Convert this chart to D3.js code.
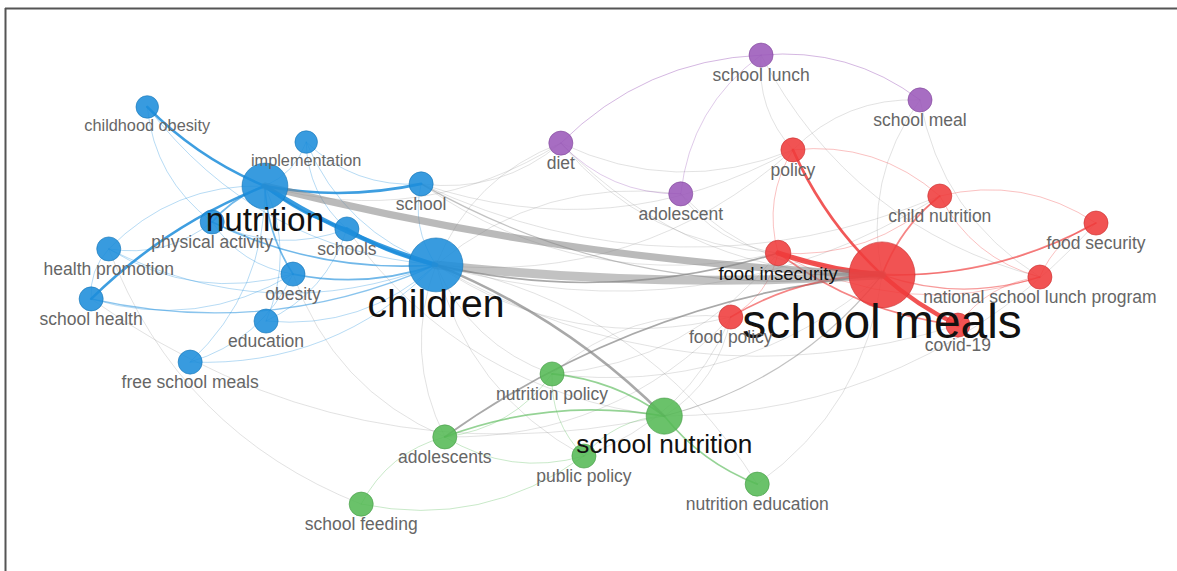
<!DOCTYPE html>
<html>
<head>
<meta charset="utf-8">
<script src="https://cdn.jsdelivr.net/npm/d3@7/dist/d3.min.js"></script>
<style>
  html, body { margin: 0; padding: 0; background: #fff; }
  svg { display: block; }
</style>
</head>
<body>
<svg id="map" width="1177" height="571"></svg>
<script>
// Keyword co-occurrence map: terms, clusters, occurrences and layout coordinates
const keywords = [
  "childhood obesity", "implementation", "nutrition", "school", "physical activity",
  "schools", "children", "health promotion", "obesity", "school health",
  "education", "free school meals",
  "school lunch", "school meal", "diet", "adolescent",
  "policy", "child nutrition", "food security", "food insecurity", "school meals",
  "national school lunch program", "food policy", "covid-19",
  "nutrition policy", "school nutrition", "adolescents", "public policy",
  "school feeding", "nutrition education"
];
const clusters = [
  1, 1, 1, 1, 1, 1, 1, 1, 1, 1, 1, 1,
  4, 4, 4, 4,
  2, 2, 2, 2, 2, 2, 2, 2,
  3, 3, 3, 3, 3, 3
];
const occurrences = [
  7, 7, 29, 8, 8, 8, 40, 8, 8, 8, 8, 8,
  8, 8, 8, 8,
  8, 8, 8, 9, 60, 8, 8, 8,
  8, 18, 8, 8, 8, 8
];
const layoutX = [
  -0.805, -0.516, -0.591, -0.307, -0.687, -0.442, -0.280, -0.875, -0.540, -0.907,
  -0.589, -0.727,
  0.311, 0.600, -0.053, 0.165,
  0.369, 0.636, 0.920, 0.342, 0.531, 0.818, 0.256, 0.669,
  -0.069, 0.135, -0.264, -0.011, -0.416, 0.304
];
const layoutY = [
  -0.678, -0.548, -0.385, -0.393, -0.252, -0.226, -0.093, -0.152, -0.059, 0.033,
  0.115, 0.267,
  -0.870, -0.704, -0.544, -0.356,
  -0.519, -0.348, -0.248, -0.137, -0.056, -0.048, 0.100, 0.130,
  0.311, 0.467, 0.544, 0.615, 0.793, 0.719
];

// Co-occurrence links: [term, term, link strength]
const links = [
  // cluster 1
  ["childhood obesity", "nutrition", 3],
  ["nutrition", "school health", 3],
  ["nutrition", "school", 3],
  ["nutrition", "children", 5],
  ["nutrition", "schools", 3],
  ["schools", "children", 4],
  ["nutrition", "obesity", 2],
  ["nutrition", "physical activity", 2],
  ["nutrition", "implementation", 1],
  ["nutrition", "health promotion", 1],
  ["obesity", "children", 2],
  ["physical activity", "children", 2],
  ["school health", "children", 1.5],
  ["health promotion", "children", 1],
  ["school", "children", 1],
  ["education", "children", 1],
  ["free school meals", "children", 1],
  ["implementation", "children", 1],
  ["childhood obesity", "children", 1],
  ["free school meals", "nutrition", 1],
  ["education", "nutrition", 1],
  ["health promotion", "obesity", 1],
  ["school health", "obesity", 1],
  ["physical activity", "obesity", 1],
  ["free school meals", "obesity", 1],
  ["physical activity", "schools", 1],
  ["health promotion", "school health", 1],
  ["implementation", "school", 1],
  ["implementation", "schools", 1],
  ["education", "schools", 1],
  ["childhood obesity", "physical activity", 1],
  ["health promotion", "physical activity", 1],
  // between clusters
  ["nutrition", "school meals", 8],
  ["children", "school meals", 10],
  ["school nutrition", "children", 3],
  ["school meals", "adolescents", 2],
  ["school nutrition", "food security", 1],
  ["children", "food insecurity", 2],
  ["school", "policy", 1],
  ["school", "school meals", 1.5],
  ["school", "food insecurity", 1],
  ["school", "child nutrition", 1],
  ["nutrition", "diet", 1],
  ["school", "diet", 1],
  ["diet", "policy", 1],
  ["diet", "school meals", 1],
  ["diet", "food insecurity", 1],
  ["diet", "children", 1],
  ["children", "policy", 1],
  ["children", "child nutrition", 1],
  ["children", "food policy", 1],
  ["children", "covid-19", 1],
  ["children", "nutrition policy", 1],
  ["children", "adolescents", 1],
  ["obesity", "adolescents", 1],
  ["children", "public policy", 1],
  ["schools", "school nutrition", 1],
  ["school health", "school nutrition", 1],
  ["health promotion", "school feeding", 1],
  ["adolescent", "school meals", 1],
  ["adolescent", "children", 1],
  ["adolescent", "food insecurity", 1],
  ["school lunch", "policy", 1],
  ["school lunch", "national school lunch program", 1],
  ["school meal", "school meals", 1],
  ["school meal", "policy", 1],
  ["school meal", "national school lunch program", 1],
  ["school nutrition", "school meals", 1.5],
  ["nutrition policy", "school meals", 1],
  ["nutrition policy", "food insecurity", 1],
  ["public policy", "food policy", 1],
  ["nutrition education", "school meals", 1],
  ["nutrition education", "children", 1],
  ["food policy", "nutrition policy", 1],
  ["school nutrition", "food policy", 1],
  ["adolescents", "food policy", 1],
  // cluster 4
  ["school lunch", "diet", 1.2],
  ["school meal", "school lunch", 1.2],
  ["school lunch", "adolescent", 1],
  ["diet", "adolescent", 1],
  // cluster 2
  ["policy", "school meals", 3],
  ["child nutrition", "school meals", 2],
  ["food insecurity", "school meals", 6],
  ["school meals", "covid-19", 5],
  ["school meals", "food policy", 2],
  ["school meals", "food security", 2],
  ["school meals", "national school lunch program", 1.5],
  ["child nutrition", "policy", 1],
  ["food security", "child nutrition", 1],
  ["child nutrition", "national school lunch program", 1],
  ["food security", "national school lunch program", 1],
  ["food insecurity", "child nutrition", 1],
  ["policy", "food insecurity", 1],
  ["food insecurity", "national school lunch program", 1],
  ["food insecurity", "food security", 1],
  ["national school lunch program", "covid-19", 1],
  ["food insecurity", "covid-19", 2],
  ["food policy", "food insecurity", 1],
  // cluster 3
  ["school nutrition", "nutrition policy", 2],
  ["school nutrition", "adolescents", 2],
  ["school nutrition", "nutrition education", 2],
  ["school nutrition", "public policy", 1],
  ["adolescents", "public policy", 1],
  ["school feeding", "public policy", 1],
  ["adolescents", "school feeding", 1],
  ["adolescents", "nutrition policy", 1],
  ["nutrition policy", "public policy", 1]
];

const clusterColors = { 1: "#1c8ddb", 2: "#ef3b3b", 3: "#55b955", 4: "#9b59b9" };
const linkGray = "#858585";

const W = 1177, H = 571;
const svg = d3.select("#map");

const x = d3.scaleLinear().domain([-1, 1]).range([40, 1140]);
const y = d3.scaleLinear().domain([-1, 1]).range([20, 560]);
const radius = d3.scaleSqrt().domain([0, d3.max(occurrences)]).range([0, 33]);
const linkWidth = d3.scaleLinear().domain([1, 10]).range([0.8, 9]);
// colored links get stronger with weight; gray links peak at medium weight
const colorOpacity = d3.scaleLinear().domain([1, 3, 10]).range([0.4, 0.85, 0.95]).clamp(true);
const grayOpacity = d3.scaleLinear().domain([1, 2, 4, 10]).range([0.3, 0.7, 0.7, 0.5]).clamp(true);

const nodes = keywords.map((k, i) => ({
  label: k,
  cluster: clusters[i],
  occ: occurrences[i],
  px: x(layoutX[i]),
  py: y(layoutY[i]),
  r: radius(occurrences[i])
}));
const byLabel = new Map(nodes.map(n => [n.label, n]));

// frame
svg.append("line").attr("x1", 5).attr("x2", W).attr("y1", 8.5).attr("y2", 8.5)
  .attr("stroke", "#555").attr("stroke-width", 2);
svg.append("line").attr("x1", 5.5).attr("x2", 5.5).attr("y1", 8).attr("y2", H)
  .attr("stroke", "#555").attr("stroke-width", 2);

// curved links, weakest first
function arc(a, b, w) {
  const dx = b.px - a.px, dy = b.py - a.py;
  const len = Math.hypot(dx, dy);
  const off = len * 0.11 / Math.pow(w, 0.7);
  const mx = (a.px + b.px) / 2, my = (a.py + b.py) / 2;
  const cx = mx + (-dy / len) * off * 2, cy = my + (dx / len) * off * 2;
  const p = d3.path();
  p.moveTo(a.px, a.py);
  p.quadraticCurveTo(cx, cy, b.px, b.py);
  return p.toString();
}

const linkData = links.map(([s, t, w]) => ({ s: byLabel.get(s), t: byLabel.get(t), w }))
  .map(d => ({ ...d, same: d.s.cluster === d.t.cluster }))
  .sort((a, b) => a.w - b.w);

svg.append("g").attr("fill", "none").attr("stroke-linecap", "round")
  .selectAll("path").data(linkData).join("path")
  .attr("d", d => arc(d.s, d.t, d.w))
  .attr("stroke", d => d.same ? clusterColors[d.s.cluster] : linkGray)
  .attr("stroke-width", d => linkWidth(d.w))
  .attr("stroke-opacity", d => d.same ? colorOpacity(d.w) : grayOpacity(d.w));

// nodes
svg.append("g").selectAll("circle").data(nodes).join("circle")
  .attr("cx", d => d.px).attr("cy", d => d.py).attr("r", d => d.r)
  .attr("fill", d => clusterColors[d.cluster])
  .attr("fill-opacity", 0.88)
  .attr("stroke", d => d3.color(clusterColors[d.cluster]).darker(0.5))
  .attr("stroke-width", 1)
  .attr("stroke-opacity", 0.6);

// labels below each node, sized with the node
svg.append("g").attr("text-anchor", "middle")
  .style("font-family", "'Liberation Sans', Arial, Helvetica, sans-serif")
  .selectAll("text").data(nodes).join("text")
  .attr("x", d => d.px)
  .attr("y", d => d.py + 1.8 * d.r + 4)
  .attr("font-size", d => (1.45 * d.r).toFixed(1) + "px")
  .attr("fill", d => d.occ >= 9 ? "#111" : "#666")
  .text(d => d.label);
</script>
</body>
</html>
